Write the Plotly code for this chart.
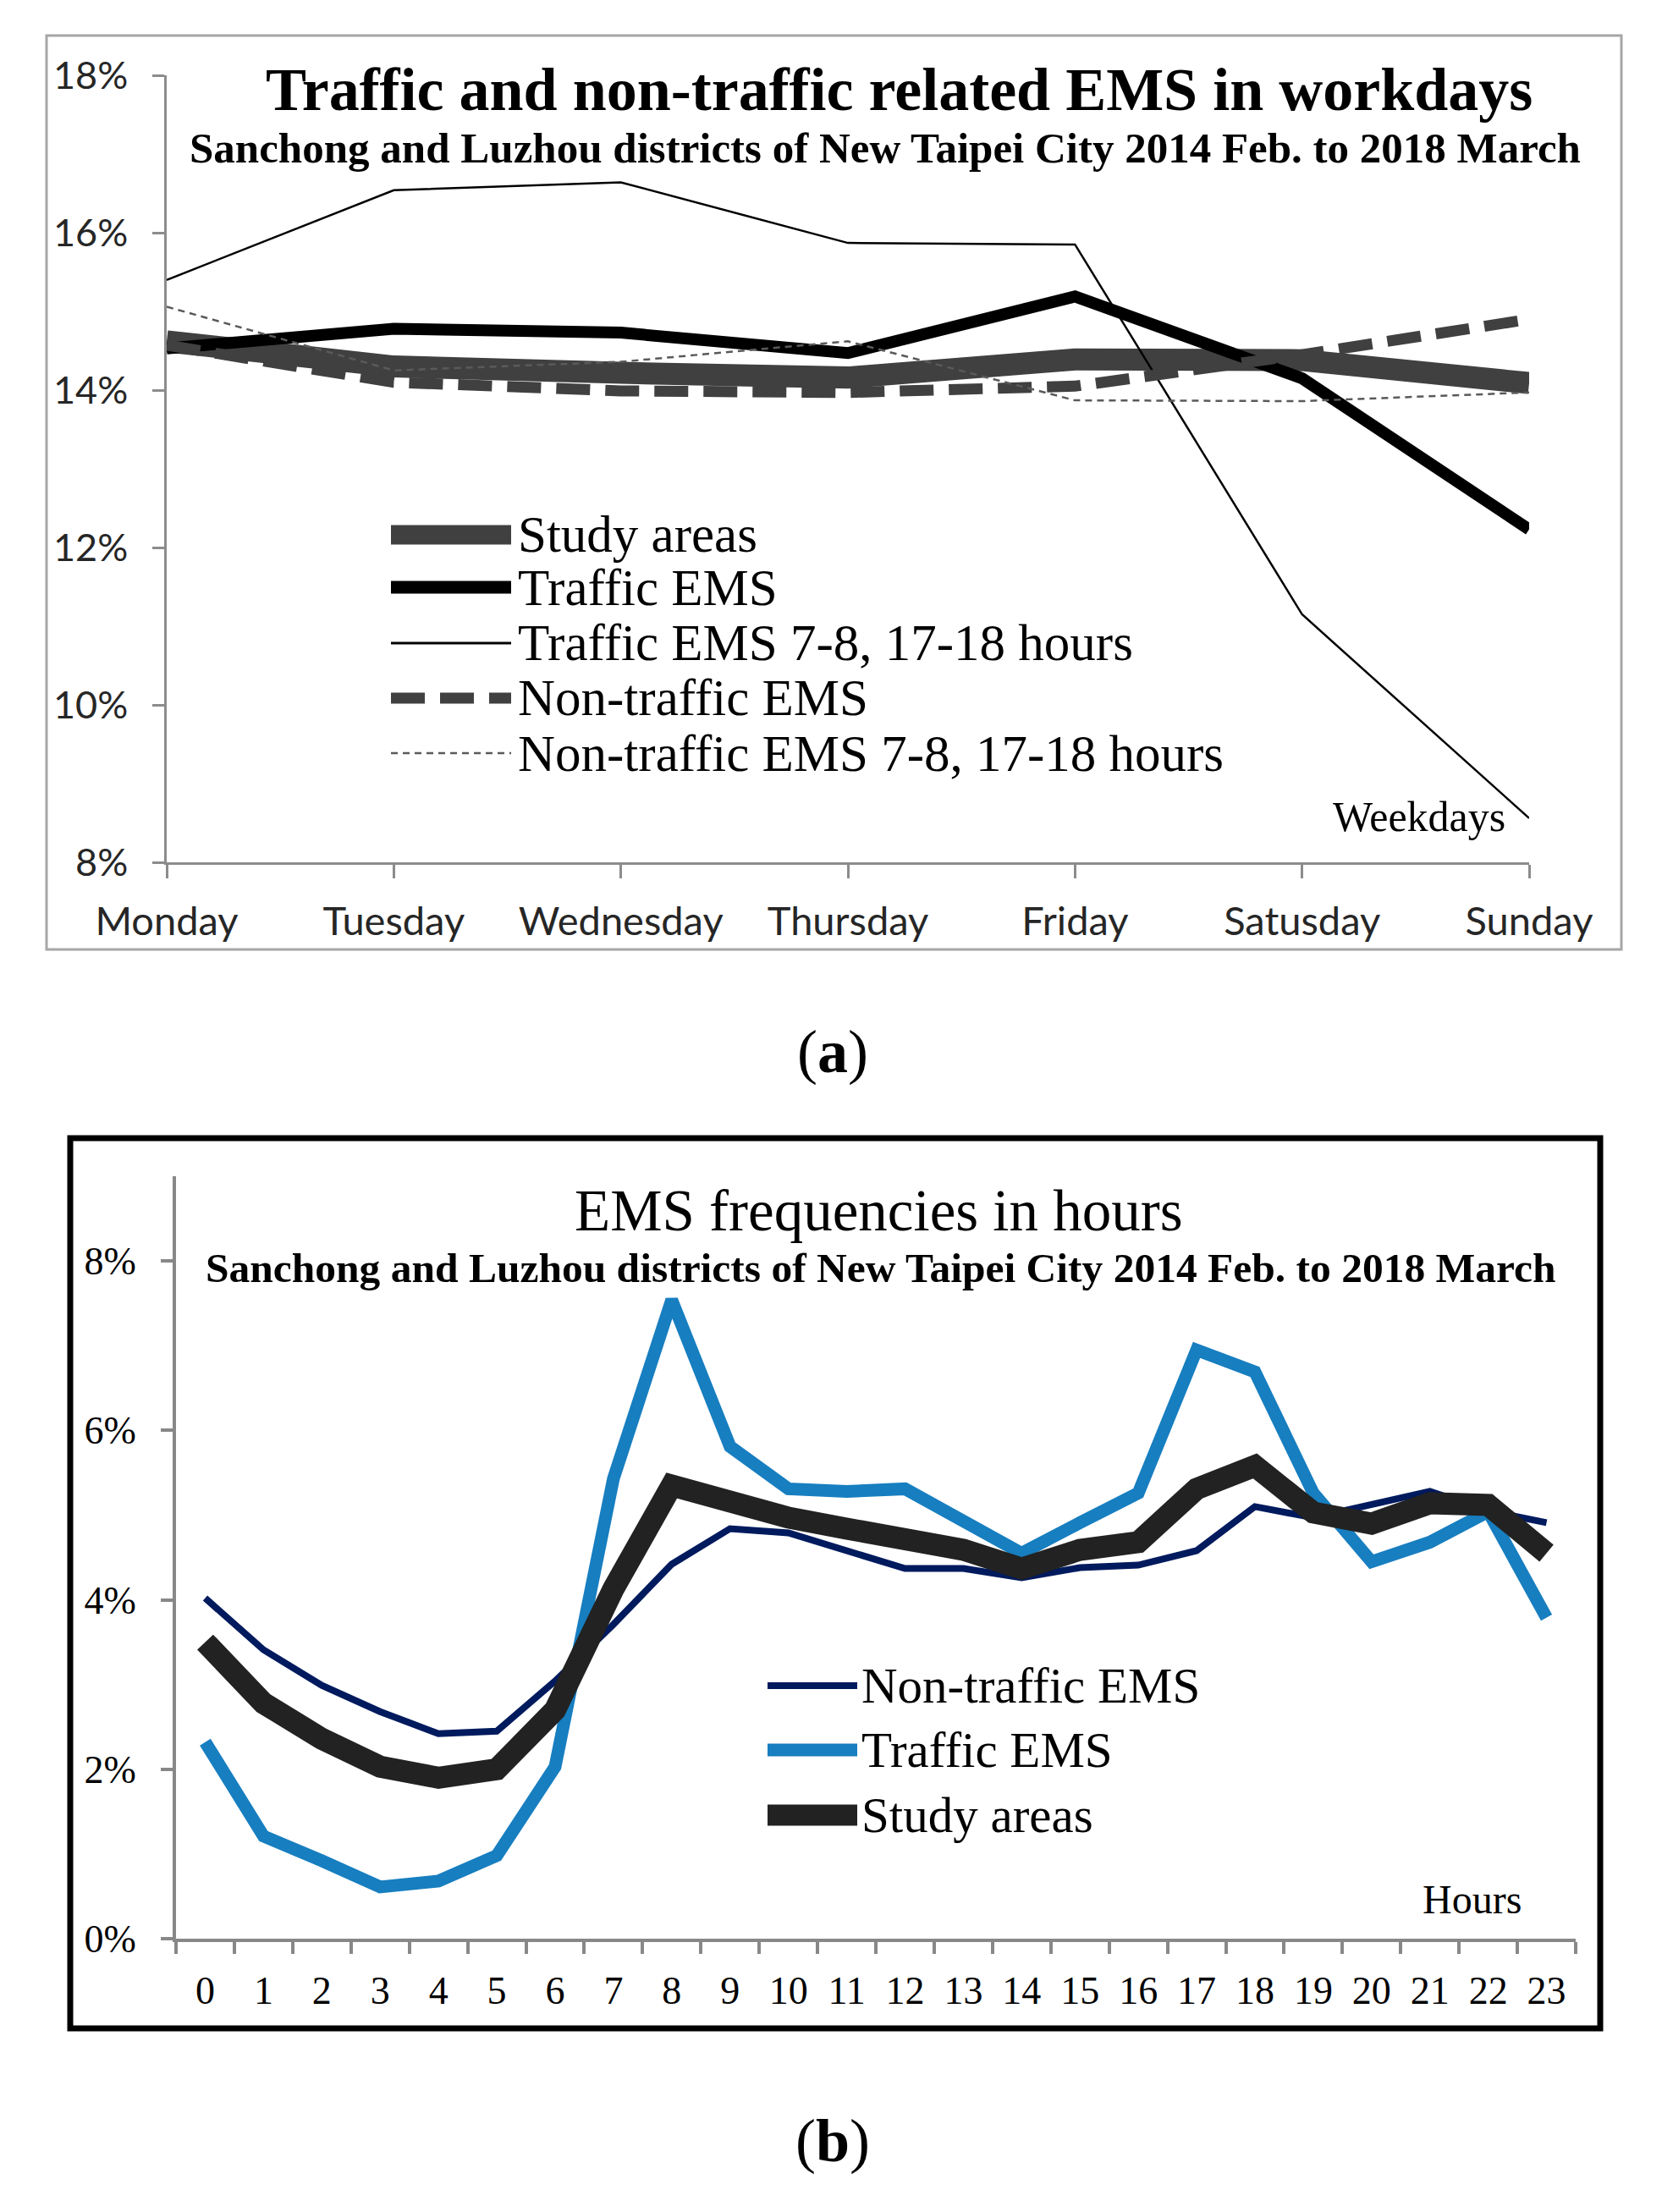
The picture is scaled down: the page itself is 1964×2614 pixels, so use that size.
import plotly.graph_objects as go

# ---------------- data ----------------
days = ["Monday", "Tuesday", "Wednesday", "Thursday", "Friday", "Satusday", "Sunday"]
study_days = [14.62, 14.30, 14.22, 14.16, 14.39, 14.38, 14.09]
traffic_days = [14.53, 14.78, 14.73, 14.47, 15.19, 14.15, 12.23]
traffic_peak_days = [15.40, 16.54, 16.64, 15.87, 15.85, 11.15, 8.56]
nontraffic_days = [14.57, 14.10, 13.99, 13.97, 14.05, 14.45, 14.90]
nontraffic_peak_days = [15.06, 14.25, 14.36, 14.62, 13.87, 13.86, 13.97]

hours = [str(h) for h in range(24)]
nontraffic_hours = [4.02, 3.41, 2.99, 2.68, 2.42, 2.45, 3.04, 3.71, 4.42, 4.84, 4.79, 4.57,
                    4.37, 4.37, 4.26, 4.38, 4.41, 4.58, 5.10, 4.97, 5.12, 5.28, 5.05, 4.91]
traffic_hours = [2.32, 1.21, 0.92, 0.61, 0.68, 0.98, 2.03, 5.43, 7.54, 5.81, 5.31, 5.28,
                 5.31, 4.93, 4.55, 4.91, 5.26, 6.95, 6.69, 5.26, 4.45, 4.68, 5.04, 3.79]
study_hours = [3.50, 2.78, 2.36, 2.03, 1.90, 2.00, 2.70, 4.13, 5.35, 5.14, 4.97, 4.84,
               4.72, 4.59, 4.37, 4.59, 4.68, 5.31, 5.58, 5.03, 4.90, 5.14, 5.12, 4.55]

yticks_a = [8, 10, 12, 14, 16, 18]
yticks_b = [0, 2, 4, 6, 8]

# ---------------- geometry helpers ----------------
# the page body has an 8px margin, so the figure is shifted by OFF pixels
OFF = 8
W, H = 1964 - OFF, 2614 - OFF
def fx(x):
    return (x - OFF) / W
def fy(y):
    return 1 - (y - OFF) / H

SERIF = "Liberation Serif"
SANS = "Lato"

fig = go.Figure()

# ---------------- chart (a) ----------------
a_series = [
    ("Study areas", study_days, dict(color="#404040", width=26)),
    ("Traffic EMS", traffic_days, dict(color="#000000", width=14)),
    ("Traffic EMS 7-8, 17-18 hours", traffic_peak_days, dict(color="#000000", width=2.5)),
    ("Non-traffic EMS", nontraffic_days, dict(color="#404040", width=13, dash="40px,18px")),
    ("Non-traffic EMS 7-8, 17-18 hours", nontraffic_peak_days, dict(color="#5a5a5a", width=2.5, dash="8px,6px")),
]
for name, vals, line in a_series:
    fig.add_trace(go.Scatter(x=days, y=vals, name=name, mode="lines", line=line,
                             xaxis="x", yaxis="y", showlegend=False, hoverinfo="skip"))

# ---------------- chart (b) ----------------
b_series = [
    ("Non-traffic EMS", nontraffic_hours, dict(color="#001a5e", width=8)),
    ("Traffic EMS", traffic_hours, dict(color="#177ec0", width=15)),
    ("Study areas", study_hours, dict(color="#222222", width=26)),
]
for name, vals, line in b_series:
    fig.add_trace(go.Scatter(x=hours, y=vals, name=name, mode="lines", line=line,
                             xaxis="x2", yaxis="y2", showlegend=False, hoverinfo="skip"))

axis_a_color = "#8c8c8c"
axis_b_color = "#888888"

fig.update_layout(
    template="none",
    width=W, height=H,
    margin=dict(l=0, r=0, t=0, b=0, autoexpand=False),
    paper_bgcolor="white", plot_bgcolor="white",
    showlegend=False,
    xaxis=dict(domain=[fx(197), fx(1807)], anchor="y", type="category",
               categoryorder="array", categoryarray=days, range=[0, 6], automargin=False,
               showgrid=False, zeroline=False, showline=True, linecolor=axis_a_color, linewidth=2.5,
               ticks="outside", ticklen=16, tickwidth=2.5, tickcolor=axis_a_color,
               tickfont=dict(family=SANS, size=47, color="#262626"), ticklabelstandoff=11),
    yaxis=dict(domain=[fy(1019), fy(89)], anchor="x", range=[8, 18], automargin=False,
               tickvals=yticks_a, ticktext=["%d%%" % v for v in yticks_a],
               showgrid=False, zeroline=False, showline=True, linecolor=axis_a_color, linewidth=2.5,
               ticks="outside", ticklen=14, tickwidth=2.5, tickcolor=axis_a_color,
               tickfont=dict(family=SANS, size=45, color="#262626"), ticklabelstandoff=20),
    xaxis2=dict(domain=[fx(208), fx(1862)], anchor="y2", type="category",
                categoryorder="array", categoryarray=hours, range=[-0.5, 23.5], automargin=False,
                tickson="boundaries",
                showgrid=False, zeroline=False, showline=True, linecolor=axis_b_color, linewidth=4,
                ticks="outside", ticklen=14, tickwidth=4, tickcolor=axis_b_color,
                tickfont=dict(family=SERIF, size=46, color="#000000"), ticklabelstandoff=18),
    yaxis2=dict(domain=[fy(2291), fy(1390)], anchor="x2", range=[0, 9], automargin=False,
                tickvals=yticks_b, ticktext=["%d%%" % v for v in yticks_b],
                showgrid=False, zeroline=False, showline=True, linecolor=axis_b_color, linewidth=4,
                ticks="outside", ticklen=14, tickwidth=4, tickcolor=axis_b_color,
                tickfont=dict(family=SERIF, size=46, color="#000000"), ticklabelstandoff=20),
)

# ---------------- frames ----------------
fig.add_shape(type="rect", xref="paper", yref="paper",
              x0=fx(55), x1=fx(1916), y0=fy(1122), y1=fy(42),
              line=dict(color="#a6a6a6", width=3), fillcolor="rgba(0,0,0,0)", layer="below")
fig.add_shape(type="rect", xref="paper", yref="paper",
              x0=fx(83), x1=fx(1891), y0=fy(2397), y1=fy(1345),
              line=dict(color="#000000", width=7), fillcolor="rgba(0,0,0,0)", layer="below")

# ---------------- texts ----------------
def ann(text, x, y, size, xanchor="center", bold=False, family=SERIF):
    fig.add_annotation(text=("<b>%s</b>" % text) if bold else text,
                       x=fx(x), y=fy(y), xref="paper", yref="paper",
                       xanchor=xanchor, yanchor="middle", showarrow=False,
                       font=dict(family=family, size=size, color="#000000"))

# ---------------- legends (key line + label) ----------------
def legend_entry(name, line, x0, x1, xt, y, size):
    fig.add_shape(type="line", xref="paper", yref="paper",
                  x0=fx(x0), x1=fx(x1), y0=fy(y), y1=fy(y), line=line)
    ann(name, xt, y, size, xanchor="left")

leg_a_y = [632, 694, 760, 825, 890]
leg_a_w = [23, 15, 3, 13, 2.5]
for (name, _, line), yy, lw in zip(a_series, leg_a_y, leg_a_w):
    key = dict(line)
    key["width"] = lw
    legend_entry(name, key, 462, 604, 610, yy, 61)

leg_b_y = [1992, 2068, 2145]
leg_b_w = [8, 15, 25]
for (name, _, line), yy, lw in zip(b_series, leg_b_y, leg_b_w):
    key = dict(line)
    key["width"] = lw
    legend_entry(name, key, 907, 1013, 1016, yy, 59)

ann("Traffic and non-traffic related EMS in workdays", 1062, 106, 72, bold=True)
ann("Sanchong and Luzhou districts of New Taipei City 2014 Feb. to 2018 March", 1046, 175, 51, bold=True)
ann("Weekdays", 1781, 965, 50, xanchor="right")
ann("(<b>a</b>)", 984, 1243, 72)

ann("EMS frequencies in hours", 1038, 1431, 69)
ann("Sanchong and Luzhou districts of New Taipei City 2014 Feb. to 2018 March", 1041, 1498, 49.5, bold=True)
ann("Hours", 1800, 2244, 48, xanchor="right")
ann("(<b>b</b>)", 984, 2530, 72)

fig.write_html("out.html")
